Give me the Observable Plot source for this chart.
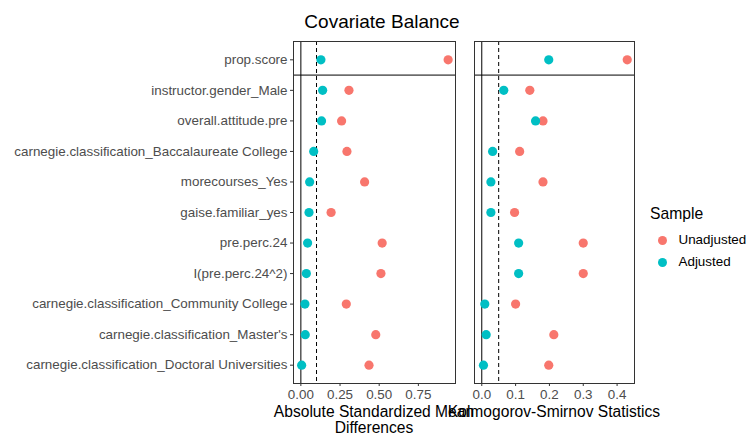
<!DOCTYPE html>
<html>
<head>
<meta charset="utf-8">
<script src="https://cdn.jsdelivr.net/npm/d3@7"></script>
<script src="https://cdn.jsdelivr.net/npm/@observablehq/plot@0.6"></script>
<style>
  html, body { margin: 0; padding: 0; background: #fff; }
  #wrap { position: relative; width: 753px; height: 436px; font-family: "Liberation Sans", Arial, sans-serif; overflow: hidden; }
  .abs { position: absolute; }
  .title { font-size: 19px; color: #000; white-space: nowrap; transform: translateX(-50%); line-height: 22px; }
  .xlab { font-size: 15.6px; color: #000; text-align: center; line-height: 16px; white-space: nowrap; transform: translateX(-50%); }
  .legtitle { font-size: 15.7px; color: #000; line-height: 18px; }
  .legitem { font-size: 13.4px; color: #000; display: flex; align-items: center; line-height: 16px; }
  .dot { width: 9px; height: 9px; border-radius: 50%; display: inline-block; margin-right: 12px; }
</style>
</head>
<body>
<div id="wrap"></div>
<script>
const covariates = [
  "prop.score",
  "instructor.gender_Male",
  "overall.attitude.pre",
  "carnegie.classification_Baccalaureate College",
  "morecourses_Yes",
  "gaise.familiar_yes",
  "pre.perc.24",
  "I(pre.perc.24^2)",
  "carnegie.classification_Community College",
  "carnegie.classification_Master's",
  "carnegie.classification_Doctoral Universities"
];
const samples = ["Unadjusted", "Adjusted"];
const colors = ["#F8766D", "#00BFC4"];

const smdUnadjusted = [0.94, 0.307, 0.26, 0.294, 0.407, 0.193, 0.519, 0.511, 0.29, 0.478, 0.435];
const smdAdjusted   = [0.128, 0.139, 0.132, 0.082, 0.056, 0.052, 0.043, 0.035, 0.026, 0.028, 0.005];
const ksUnadjusted  = [0.43, 0.142, 0.181, 0.112, 0.181, 0.097, 0.30, 0.30, 0.10, 0.213, 0.198];
const ksAdjusted    = [0.198, 0.065, 0.159, 0.032, 0.027, 0.027, 0.109, 0.109, 0.009, 0.013, 0.005];

const smdTicks = [0, 0.25, 0.5, 0.75];
const ksTicks = [0, 0.1, 0.2, 0.3, 0.4];
const smdThreshold = 0.1;
const ksThreshold = 0.05;

function rows(unadj, adj) {
  const out = [];
  covariates.forEach((c, i) => out.push({ idx: i, value: unadj[i], sample: "Unadjusted" }));
  covariates.forEach((c, i) => out.push({ idx: i, value: adj[i], sample: "Adjusted" }));
  return out;
}

function expandDomain(vals) {
  const lo = Math.min(0, d3.min(vals)), hi = d3.max(vals);
  const pad = (hi - lo) * 0.05;
  return [lo - pad, hi + pad];
}

function panel({ data, ticks, fmt, threshold, width, marginLeft, marginRight, showY }) {
  const yDomain = [-0.6, covariates.length - 1 + 0.6];
  return Plot.plot({
    width, height: 436,
    marginTop: 41, marginBottom: 53, marginLeft, marginRight,
    style: { fontFamily: "Liberation Sans, Arial, sans-serif", fontSize: "13.4px", background: "transparent", overflow: "visible" },
    x: { domain: expandDomain(data.map(d => d.value)), ticks, tickFormat: d3.format(fmt), label: null, axis: null },
    y: { domain: yDomain, reverse: true, label: null, axis: null },
    color: { domain: samples, range: colors },
    marks: [
      Plot.ruleX([0], { stroke: "#000", strokeWidth: 1 }),
      Plot.ruleX([threshold], { stroke: "#000", strokeWidth: 1, strokeDasharray: "4,3" }),
      Plot.ruleY([0.5], { stroke: "#000", strokeWidth: 1 }),
      Plot.dot(data, { x: "value", y: "idx", fill: "sample", r: 4.6, stroke: null }),
      Plot.frame({ stroke: "#333", strokeWidth: 1 }),
      Plot.axisX({ ticks, tickFormat: d3.format(fmt), tickSize: 3, tickPadding: 3, fill: "#4d4d4d", stroke: "#333", fontSize: 13.4, label: null }),
      showY
        ? Plot.axisY({ ticks: d3.range(covariates.length), tickFormat: i => covariates[i], tickSize: 3, tickPadding: 3, fill: "#4d4d4d", stroke: "#333", fontSize: 13.4, label: null })
        : null
    ]
  });
}

const wrap = document.getElementById("wrap");

const left = panel({ data: rows(smdUnadjusted, smdAdjusted), ticks: smdTicks, fmt: ".2f", threshold: smdThreshold,
  width: 460, marginLeft: 293, marginRight: 5, showY: true });
left.classList.add("abs"); left.style.left = "0px"; left.style.top = "0px";
wrap.appendChild(left);

const right = panel({ data: rows(ksUnadjusted, ksAdjusted), ticks: ksTicks, fmt: ".1f", threshold: ksThreshold,
  width: 180, marginLeft: 14, marginRight: 6, showY: false });
right.classList.add("abs"); right.style.left = "460px"; right.style.top = "0px";
wrap.appendChild(right);

function addDiv(cls, html, x, y) {
  const d = document.createElement("div");
  d.className = "abs " + cls;
  d.innerHTML = html;
  d.style.left = x + "px"; d.style.top = y + "px";
  wrap.appendChild(d);
  return d;
}

addDiv("title", "Covariate Balance", 382, 11);
addDiv("xlab", "Absolute Standardized Mean<br>Differences", 374, 404);
addDiv("xlab", "Kolmogorov-Smirnov Statistics", 554, 404);

addDiv("legtitle", "Sample", 650, 205);
samples.forEach((s, i) => {
  addDiv("legitem", `<span class="dot" style="background:${colors[i]}"></span>${s}`, 657.5, 232 + i * 22);
});
</script>
</body>
</html>
